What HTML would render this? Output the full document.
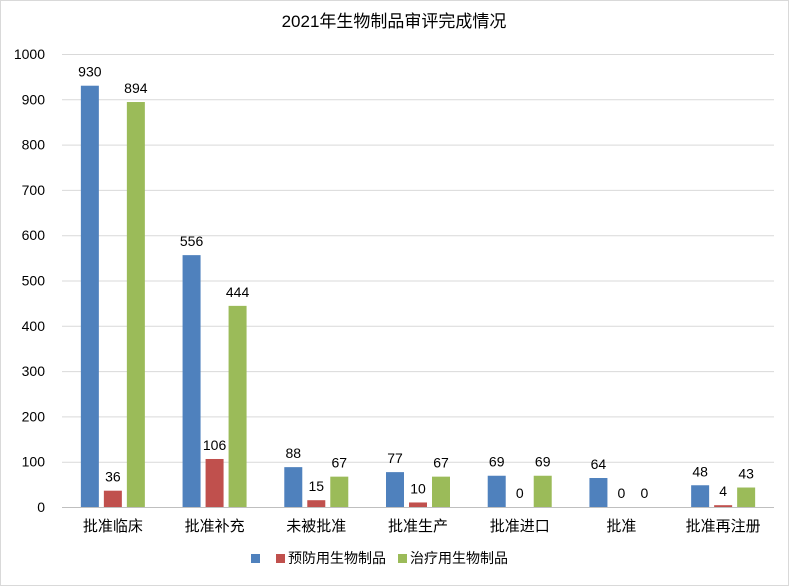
<!DOCTYPE html>
<html><head><meta charset="utf-8"><style>
body{margin:0;background:#fff}
svg{display:block;font-family:"Liberation Sans","Noto Sans CJK SC",sans-serif}
</style></head><body>
<svg id="chart" width="789" height="586">
<rect x="0.5" y="0.5" width="788" height="585" fill="#fff" stroke="#d9d9d9"/>
<text x="394" y="27" text-anchor="middle" font-size="17" fill="#000">2021年生物制品审评完成情况</text>
<g id="grid"></g><g id="bars"></g><g id="labels"></g>
<g>
<rect x="251" y="554" width="9" height="9" fill="#4f81bd"/>
<rect x="276" y="554" width="9" height="9" fill="#c0504d"/>
<text x="288" y="563" font-size="14">预防用生物制品</text>
<rect x="398" y="554" width="9" height="9" fill="#9bbb59"/>
<text x="410" y="563" font-size="14">治疗用生物制品</text>
</g>
</svg>
<script>
const categories=["批准临床","批准补充","未被批准","批准生产","批准进口","批准","批准再注册"];
const seriesTotal=[930,556,88,77,69,64,48];
const seriesPrevent=[36,106,15,10,0,0,4];
const seriesTreat=[894,444,67,67,69,0,43];
const yTicks=[0,100,200,300,400,500,600,700,800,900,1000];
const NS="http://www.w3.org/2000/svg";
const x0=62,x1=774,y0=507,y1=54,ymax=1000;
const y=v=>y0-(v/ymax)*(y0-y1);
const bw=(x1-x0)/categories.length;
const grid=document.getElementById('grid'),bars=document.getElementById('bars'),labels=document.getElementById('labels');
function mk(tag,attrs,parent,txt){const e=document.createElementNS(NS,tag);for(const k in attrs)e.setAttribute(k,attrs[k]);if(txt!==undefined)e.textContent=txt;parent.appendChild(e);return e;}
yTicks.forEach(t=>{
 const l=mk('line',{x1:x0,x2:x1,y1:y(t)+0.5,y2:y(t)+0.5,stroke:t===0?'#bfbfbf':'#d9d9d9'},grid);
 
 
 const tx=mk('text',{x:45,y:y(t)+5,'text-anchor':'end','font-size':14},grid,t);
 
 
});
const series=[[seriesTotal,'#4f81bd',-23],[seriesPrevent,'#c0504d',0],[seriesTreat,'#9bbb59',23]];
categories.forEach((c,i)=>{
 const cx=x0+bw*(i+0.5);
 series.forEach(([arr,col,off],s)=>{
  const v=arr[i];
  const r=mk('rect',{x:cx+off-9,y:y(v),width:18,height:y0-y(v),fill:col},bars);
  
  
  const t=mk('text',{x:cx+off,y:y(v)-9,'text-anchor':'middle','font-size':14},labels,v);
  
  
 });
 const t=mk('text',{x:cx,y:531,'text-anchor':'middle','font-size':15},labels,c);
 
 
});
</script>
</body></html>
